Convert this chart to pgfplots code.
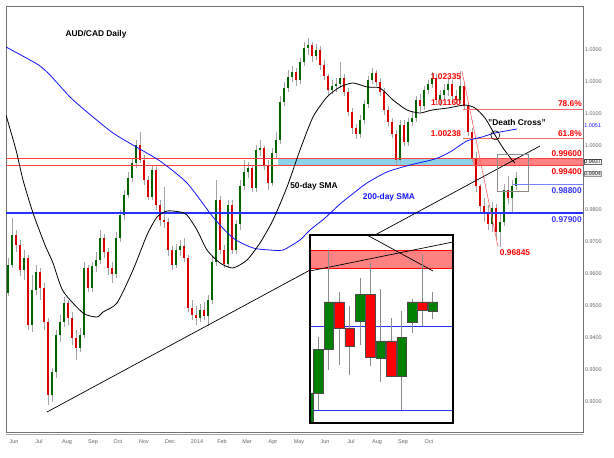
\documentclass[border=0pt]{standalone}
\usepackage{fontspec}
\setmainfont{Liberation Sans}
\usepackage{pgfplots}
\usepackage{pgfplotstable}
\pgfplotsset{compat=1.18}
\definecolor{cgreen}{RGB}{0,128,0}
\definecolor{cdgreen}{RGB}{0,100,0}
\definecolor{cred}{RGB}{255,0,0}
\definecolor{ccyan}{RGB}{140,210,232}
\definecolor{cband}{RGB}{255,130,130}
\definecolor{clblue}{RGB}{120,130,255}
\definecolor{cblue}{RGB}{20,20,255}
\definecolor{chblue}{RGB}{40,50,255}
\definecolor{cwick}{RGB}{165,165,165}

\pgfplotstableread{
x o h l c
8 0.95406 0.96500 0.95313 0.96281
12 0.96281 0.97750 0.96188 0.97219
24 0.96125 0.96750 0.95813 0.96500
32 0.94406 0.95969 0.94188 0.95500
36 0.95500 0.96281 0.95344 0.96063
52 0.92219 0.93063 0.92000 0.92938
56 0.92938 0.94250 0.92750 0.94094
60 0.94094 0.94719 0.93875 0.94500
64 0.94500 0.95281 0.94344 0.95094
80 0.93688 0.94313 0.93563 0.94094
84 0.94094 0.96375 0.94000 0.96188
92 0.95563 0.96375 0.95438 0.96250
96 0.96250 0.96688 0.96063 0.96438
100 0.96438 0.97375 0.96313 0.97125
116 0.96000 0.97313 0.95875 0.97125
120 0.97125 0.98000 0.97000 0.97844
124 0.97844 0.98625 0.97688 0.98469
128 0.98469 0.99188 0.98375 0.99000
132 0.99000 0.99625 0.98875 0.99469
136 0.99469 1.00188 0.99313 1.00031
152 0.98406 0.99375 0.98313 0.99250
176 0.96281 0.96938 0.96188 0.96750
180 0.96750 0.97063 0.96563 0.96875
200 0.94625 0.95063 0.94500 0.94875
208 0.94688 0.95344 0.94375 0.95188
212 0.95188 0.96563 0.95063 0.96375
216 0.96375 0.98938 0.96250 0.98313
228 0.96313 0.98313 0.96188 0.98156
236 0.96750 0.97688 0.96625 0.97563
240 0.97563 0.98938 0.97375 0.98750
244 0.98750 0.99563 0.98625 0.99188
248 0.99188 0.99500 0.99000 0.99313
256 0.98688 1.00031 0.98563 0.99875
260 0.99875 1.00188 0.99688 0.99938
272 0.98844 0.99938 0.98750 0.99781
276 0.99781 1.00438 0.99625 1.00188
280 1.00188 1.01563 1.00063 1.01375
284 1.01375 1.02000 1.01250 1.01813
288 1.01813 1.02375 1.01688 1.02156
292 1.02156 1.02500 1.02000 1.02313
300 1.02063 1.02750 1.01938 1.02625
304 1.02625 1.03250 1.02500 1.03063
308 1.03063 1.03375 1.02844 1.03156
316 1.02813 1.03188 1.02688 1.03000
332 1.01750 1.02063 1.01625 1.01875
336 1.01875 1.02125 1.01688 1.01938
340 1.01938 1.02625 1.01813 1.02125
360 1.00375 1.00969 1.00250 1.00813
364 1.00813 1.01438 1.00688 1.01313
368 1.01313 1.02188 1.01188 1.02063
372 1.02063 1.02438 1.01938 1.02281
400 0.99563 1.00813 0.99469 1.00656
408 1.00125 1.00875 1.00000 1.00750
412 1.00750 1.01063 1.00625 1.00875
416 1.00875 1.01563 1.00750 1.01438
424 1.01250 1.01875 1.01125 1.01750
428 1.01750 1.02063 1.01625 1.01938
432 1.01938 1.02313 1.01813 1.02125
440 1.01438 1.01750 1.01250 1.01594
444 1.01594 1.01938 1.01438 1.01750
448 1.01750 1.02125 1.01563 1.01938
460 1.01438 1.02335 1.01313 1.01875
492 0.97563 0.98250 0.97313 0.98063
500 0.97313 0.97875 0.96845 0.97625
504 0.97625 0.98813 0.97500 0.98625
512 0.98375 0.98938 0.97906 0.98750
516 0.98750 0.99188 0.98625 0.99000
}\upc

\pgfplotstableread{
x o h l c
16 0.97219 0.97375 0.96688 0.96906
20 0.96906 0.97063 0.95938 0.96125
28 0.96500 0.96594 0.94250 0.94406
40 0.96063 0.96188 0.95188 0.95563
44 0.95563 0.95719 0.94250 0.94500
48 0.94500 0.94625 0.91906 0.92219
68 0.95094 0.95188 0.94406 0.94625
72 0.94625 0.94813 0.93781 0.94000
76 0.94000 0.94250 0.93313 0.93688
88 0.96188 0.96281 0.95438 0.95563
104 0.97125 0.97250 0.96500 0.96688
108 0.96688 0.96813 0.95969 0.96188
112 0.96188 0.96375 0.95719 0.96000
140 1.00031 1.00438 0.99469 0.99563
144 0.99563 0.99719 0.98781 0.98938
148 0.98938 0.99063 0.98313 0.98406
156 0.99250 0.99375 0.98000 0.98156
160 0.98156 0.98313 0.97500 0.97688
164 0.97688 0.98719 0.97438 0.97625
168 0.97625 0.97750 0.96563 0.96750
172 0.96750 0.96875 0.96125 0.96281
184 0.96875 0.97125 0.96375 0.96500
188 0.96500 0.96594 0.94813 0.94938
192 0.94938 0.95188 0.94563 0.94719
196 0.94719 0.95000 0.94406 0.94625
204 0.94875 0.95125 0.94563 0.94688
220 0.98313 0.98438 0.96625 0.96750
224 0.96750 0.96906 0.96188 0.96313
232 0.98156 0.98313 0.96625 0.96750
252 0.99313 0.99406 0.98563 0.98688
264 0.99938 1.00000 0.99250 0.99406
268 0.99406 0.99563 0.98625 0.98844
296 1.02313 1.02438 1.01875 1.02063
312 1.03156 1.03250 1.02625 1.02813
320 1.03000 1.03125 1.02375 1.02531
324 1.02531 1.02688 1.02063 1.02188
328 1.02188 1.02250 1.01594 1.01750
344 1.02125 1.02250 1.01563 1.01688
348 1.01688 1.01813 1.00938 1.01063
352 1.01063 1.01188 1.00375 1.00563
356 1.00563 1.00688 1.00219 1.00375
376 1.02281 1.02375 1.01875 1.02000
380 1.02000 1.02125 1.01563 1.01688
384 1.01688 1.01813 1.00969 1.01125
388 1.01125 1.01250 1.00625 1.00750
392 1.00750 1.00875 1.00250 1.00375
396 1.00375 1.00500 0.99375 0.99563
404 1.00656 1.00813 1.00000 1.00125
420 1.01438 1.01625 1.01063 1.01250
436 1.02125 1.02250 1.01313 1.01438
452 1.01938 1.02063 1.01438 1.01563
456 1.01563 1.01750 1.01313 1.01438
464 1.01875 1.02000 1.01125 1.01250
468 1.01250 1.01375 1.00313 1.00438
472 1.00438 1.00563 0.99500 0.99625
476 0.99625 0.99813 0.98563 0.98750
480 0.98750 0.98813 0.97875 0.98125
484 0.98125 0.98375 0.97625 0.97875
488 0.97875 0.98156 0.97375 0.97563
496 0.98063 0.98188 0.97063 0.97313
508 0.98625 0.99063 0.98188 0.98375
}\downc

\pgfplotstableread{
x h l
318.5 0.98679 0.97907
328.9 0.99600 0.98330
339.3 0.99156 0.98383
349.7 0.99007 0.98277
360.1 0.99304 0.98595
370.5 0.99473 0.98372
380.9 0.99187 0.98203
391.3 0.98880 0.98256
401.7 0.98954 0.97907
412.1 0.99081 0.98722
422.5 0.99558 0.98796
432.9 0.99156 0.98870
}\insetwicks

\newcommand{\ibody}[5]{\addplot[fill=#5, draw=black!70, line width=0.6bp] coordinates {(#1,#3)(#2,#3)(#2,#4)(#1,#4)(#1,#3)};}

\tikzset{lbl/.style={font=\bfseries\fontsize{8.4}{9}\selectfont, inner sep=0pt}}

\begin{document}
\begin{tikzpicture}
\fill[white] (0,0) rectangle (614bp,458bp);
\begin{axis}[
  at={(6bp,26bp)}, anchor=south west, scale only axis,
  width=577bp, height=426bp,
  xmin=6, xmax=583, ymin=0.910625, ymax=1.04375,
  clip mode=individual,
  axis line style={draw=black!55, line width=0.7bp},
  xtick={14,39,67,93,118,144,170,197,222,247,273,299,325,351,377,403,429},
  xticklabels={Jun,Jul,Aug,Sep,Oct,Nov,Dec,2014,Feb,Mar,Apr,May,Jun,Jul,Aug,Sep,Oct},
  ytick={0.92,0.93,0.94,0.95,0.96,0.97,0.98,1.00,1.01,1.02,1.03},
  yticklabels={0.9200,0.9300,0.9400,0.9500,0.9600,0.9700,0.9800,1.0000,1.0100,1.0200,1.0300},
  yticklabel pos=right,
  major tick length=0pt,
  tick label style={font=\fontsize{5.5}{6}\selectfont, text=black!60},
  /pgf/number format/assume math mode=true,
  x tick label style={yshift=-4.5bp},
  y tick label style={xshift=-1.5bp},
]
% zones
\addplot[fill=ccyan, draw=none] coordinates {(278,0.994)(473,0.994)(473,0.996)(278,0.996)(278,0.994)};
\addplot[fill=cband, draw=none] coordinates {(473,0.994)(583,0.994)(583,0.996)(473,0.996)(473,0.994)};
% wicks
\addplot[draw=none, error bars/.cd, y dir=plus, y explicit, error mark=none,
  error bar style={draw=cwick, line width=0.8bp}]
  table[x=x, y=l, y error expr=\thisrow{h}-\thisrow{l}] {\upc};
\addplot[draw=none, error bars/.cd, y dir=plus, y explicit, error mark=none,
  error bar style={draw=cwick, line width=0.8bp}]
  table[x=x, y=l, y error expr=\thisrow{h}-\thisrow{l}] {\downc};
% bodies
\addplot[draw=none, error bars/.cd, y dir=plus, y explicit, error mark=none,
  error bar style={draw=cdgreen, line width=2.4bp}]
  table[x=x, y=o, y error expr=\thisrow{c}-\thisrow{o}] {\upc};
\addplot[draw=none, error bars/.cd, y dir=plus, y explicit, error mark=none,
  error bar style={draw=cred!85!black, line width=2.4bp}]
  table[x=x, y=c, y error expr=\thisrow{o}-\thisrow{c}] {\downc};
% horizontal levels
\addplot[draw=cred!75, line width=1.2bp] coordinates {(6,0.996)(583,0.996)};
\addplot[draw=cred!75, line width=1.2bp] coordinates {(6,0.994)(583,0.994)};
\addplot[draw=chblue, line width=1.4bp] coordinates {(6,0.979)(583,0.979)};
\addplot[draw=clblue, line width=1.2bp] coordinates {(513,0.988)(583,0.988)};
\addplot[draw=cred!60, line width=0.6bp] coordinates {(463,1.0116)(583,1.0116)};
\addplot[draw=cred!60, line width=0.6bp] coordinates {(463,1.00238)(583,1.00238)};
\addplot[draw=cred!60, line width=0.6bp] coordinates {(462,1.02335)(498,0.96845)};
% trendline
\addplot[draw=black, line width=0.7bp] coordinates {(47,0.916875)(540,1.0)};
% 200-day SMA
\addplot[draw=cblue, line width=0.8bp, smooth, tension=0.4] coordinates {
(6,1.03094)(30,1.02688)(40,1.02500)(50,1.02219)(70,1.01531)(87,1.01063)(113,1.00406)
(138,0.99938)(160,0.99531)(187,0.98844)(213,0.97781)(233,0.97125)(253,0.96813)
(270,0.96750)(283,0.96750)(300,0.97063)(310,0.97375)(325,0.97750)(340,0.98188)
(350,0.98438)(367,0.98844)(387,0.99188)(410,0.99406)(435,0.99594)(450,0.99813)
(467,1.00156)(482,1.00281)(495,1.00406)(517,1.00531)};
% 50-day SMA
\addplot[draw=black, line width=0.8bp, smooth, tension=0.4] coordinates {
(6,1.00969)(16,0.99875)(23,0.98938)(33,0.97906)(45,0.96906)(53,0.96344)(63,0.95469)
(83,0.94781)(97,0.94656)(103,0.94813)(117,0.95094)(133,0.96125)(147,0.97219)
(157,0.97781)(167,0.97969)(180,0.97938)(187,0.97844)(197,0.97375)(207,0.96750)
(220,0.96344)(233,0.96188)(247,0.96438)(260,0.96969)(273,0.97688)(287,0.98719)
(300,0.99875)(313,1.00906)(327,1.01531)(340,1.01844)(353,1.01969)(367,1.01844)
(380,1.01813)(393,1.01438)(407,1.01125)(420,1.01031)(432,1.01125)(448,1.01188)
(465,1.01281)(475,1.01188)(485,1.00875)(495,1.00344)(503,0.99938)(512,0.99563)
(515,0.99469)};
% zoom box
\addplot[draw=black!45, line width=0.6bp] coordinates {(497,0.99750)(528,0.99750)(528,0.98594)(497,0.98594)(497,0.99750)};
\draw[black, line width=0.6bp] (axis cs:495.3,1.00334) circle (4.5bp);
% labels
\node[lbl] at (axis cs:96,1.035) {AUD/CAD Daily};
\node[lbl, text=cred] at (axis cs:446,1.02156) {1.02335};
\node[lbl, text=cred] at (axis cs:446,1.01344) {1.01160};
\node[lbl, text=cred] at (axis cs:446,1.00375) {1.00238};
\node[lbl, text=cred, anchor=east] at (axis cs:582,1.01313) {78.6\%};
\node[lbl, text=cred, anchor=east] at (axis cs:582,1.00375) {61.8\%};
\node[lbl, text=cred, anchor=east] at (axis cs:582,0.9975) {0.99600};
\node[lbl, text=cred, anchor=east] at (axis cs:582,0.99188) {0.99400};
\node[lbl, text=cblue!85, anchor=east] at (axis cs:582,0.98594) {0.98800};
\node[lbl, text=cblue!85, anchor=east] at (axis cs:582,0.97688) {0.97900};
\node[lbl, text=cred] at (axis cs:515,0.96656) {0.96845};
\node[lbl] at (axis cs:517,1.00719) {"Death Cross"};
\node[lbl] at (axis cs:314,0.98750) {50-day SMA};
\node[lbl, text=cblue] at (axis cs:389,0.98406) {200-day SMA};
\node[font=\fontsize{5.5}{6}\selectfont, text=cblue, anchor=west, inner sep=0.6bp] at (axis cs:583.5,1.00625) {1.0051};
\node[font=\fontsize{5.5}{6}\selectfont, text=black, draw=black!60, line width=0.3bp, anchor=west, inner sep=0.6bp] at (axis cs:583.5,0.99500) {0.9937};
\node[font=\fontsize{5.5}{6}\selectfont, text=black!80, draw=black!40, fill=black!10, line width=0.3bp, anchor=west, inner sep=0.6bp] at (axis cs:583.5,0.99125) {0.9904};
\end{axis}
\draw[black!35, line width=1.2bp] (6bp,23.4bp) -- (583bp,23.4bp);

% inset
\begin{axis}[
  at={(310bp,35bp)}, anchor=south west, scale only axis,
  width=143bp, height=188bp,
  xmin=310, xmax=453, ymin=0.97769, ymax=0.99759,
  axis background/.style={fill=white},
  axis line style={draw=black, line width=1.5bp},
  axis on top, ticks=none,
]
\addplot[fill=cband, draw=none] coordinates {(310,0.994)(453,0.994)(453,0.996)(310,0.996)(310,0.994)};
\addplot[draw=cred, line width=1bp] coordinates {(310,0.996)(453,0.996)};
\addplot[draw=cred, line width=1bp] coordinates {(310,0.994)(453,0.994)};
\addplot[draw=chblue, line width=1.6bp] coordinates {(310,0.9879)(453,0.9879)};
\addplot[draw=chblue, line width=1.3bp] coordinates {(310,0.979)(453,0.979)};
\addplot[draw=black, line width=0.7bp] coordinates {(310,0.99378)(453,0.99685)};
\addplot[draw=black, line width=0.7bp] coordinates {(367,0.99759)(433,0.99378)};
\addplot[draw=none, error bars/.cd, y dir=plus, y explicit, error mark=none,
  error bar style={draw=black!45, line width=1bp}]
  table[x=x, y=l, y error expr=\thisrow{h}-\thisrow{l}] {\insetwicks};
\ibody{303.3}{312.9}{0.97700}{0.98087}{cgreen}
\ibody{313.7}{323.3}{0.98087}{0.98552}{cgreen}
\ibody{324.1}{333.7}{0.98552}{0.99050}{cgreen}
\ibody{334.5}{344.1}{0.99050}{0.98775}{cred}
\ibody{344.9}{354.5}{0.98775}{0.98584}{cred}
\ibody{355.3}{364.9}{0.98849}{0.99134}{cgreen}
\ibody{365.7}{375.3}{0.99134}{0.98468}{cred}
\ibody{376.1}{385.7}{0.98457}{0.98637}{cgreen}
\ibody{386.5}{396.1}{0.98637}{0.98267}{cred}
\ibody{396.9}{406.5}{0.98267}{0.98679}{cgreen}
\ibody{407.3}{416.9}{0.98838}{0.99050}{cgreen}
\ibody{417.7}{427.3}{0.99050}{0.98965}{cred}
\ibody{428.1}{437.7}{0.98954}{0.99050}{cgreen}
\end{axis}
\end{tikzpicture}
\end{document}
